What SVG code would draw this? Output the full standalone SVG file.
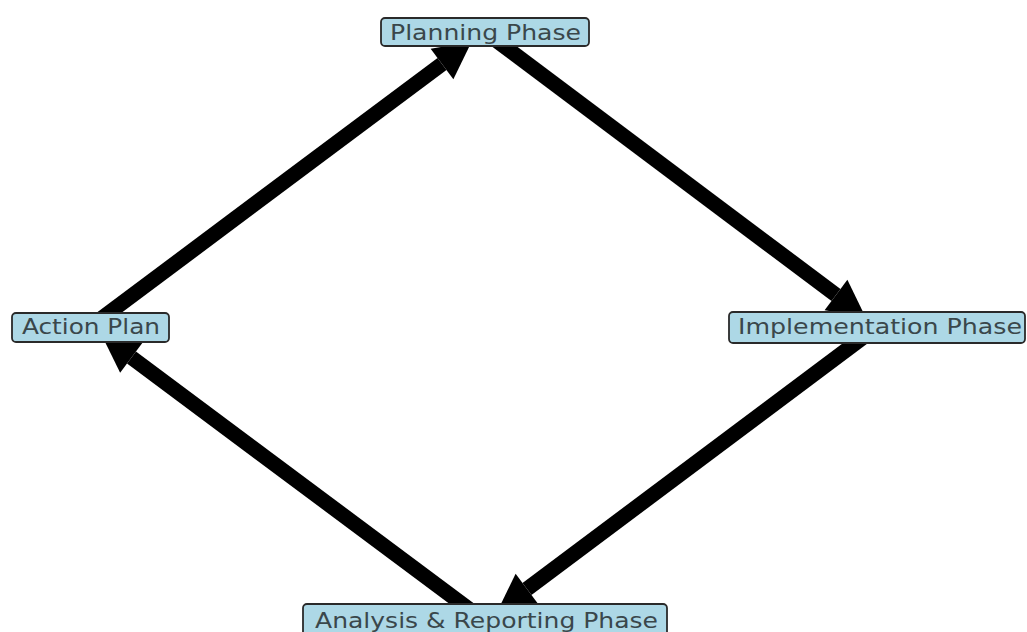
<svg xmlns="http://www.w3.org/2000/svg" width="1027" height="632" viewBox="0 0 1027 632">
<style>
.edge{stroke:#000;stroke-width:15;fill:none;marker-end:url(#head)}
.box{fill:#add8e6;stroke:#2a2a2a;stroke-width:1.8}
.lbl{font-family:"DejaVu Sans",sans-serif;font-size:21px;fill:#3a474b;text-anchor:middle}
</style>
<defs>
<marker id="head" markerUnits="userSpaceOnUse" markerWidth="38" markerHeight="38" refX="0" refY="18.5" orient="auto" viewBox="0 0 37 37" overflow="visible">
<path d="M0,0 L36,18.5 L0,37 Z" fill="#000"/>
</marker>
</defs>
<rect width="1027" height="632" fill="#fff"/>
<g id="connectors">
<line class="edge" x1="90" y1="327" x2="442" y2="64"/>
<line class="edge" x1="485" y1="32" x2="836" y2="295"/>
<line class="edge" x1="877" y1="327" x2="527" y2="589"/>
<line class="edge" x1="485" y1="621" x2="131.5" y2="357.5"/>
</g>
<g id="node-planning">
<rect class="box" x="381" y="18" width="208" height="28" rx="4"/>
<text class="lbl" x="485.5" y="39.5" textLength="191" lengthAdjust="spacingAndGlyphs">Planning Phase</text>
</g>
<g id="node-action">
<rect class="box" x="12" y="313" width="157" height="29" rx="4"/>
<text class="lbl" x="91" y="334" textLength="138" lengthAdjust="spacingAndGlyphs">Action Plan</text>
</g>
<g id="node-implementation">
<rect class="box" x="729" y="312" width="296" height="31" rx="4"/>
<text class="lbl" x="880" y="334" textLength="284" lengthAdjust="spacingAndGlyphs">Implementation Phase</text>
</g>
<g id="node-analysis">
<rect class="box" x="303" y="604" width="364" height="33" rx="4"/>
<text class="lbl" x="486.5" y="627.5" textLength="343" lengthAdjust="spacingAndGlyphs">Analysis &amp; Reporting Phase</text>
</g>
</svg>
